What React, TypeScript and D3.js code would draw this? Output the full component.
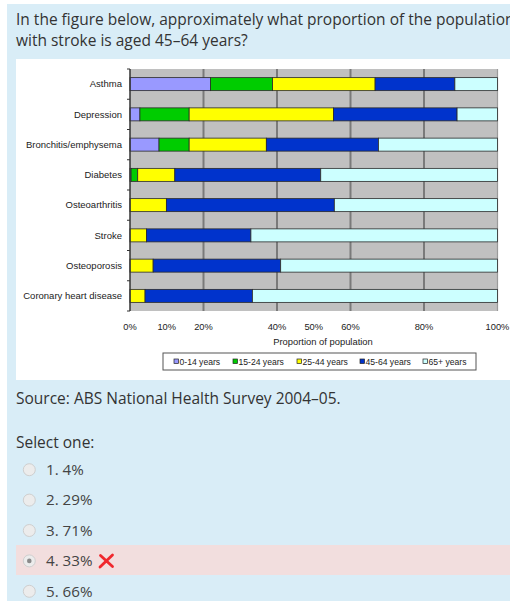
import React from "react";
import * as d3 from "d3";

const categories = [
  "Asthma",
  "Depression",
  "Bronchitis/emphysema",
  "Diabetes",
  "Osteoarthritis",
  "Stroke",
  "Osteoporosis",
  "Coronary heart disease",
];
const ageGroups = ["0-14 years", "15-24 years", "25-44 years", "45-64 years", "65+ years"];
const age0to14 = [21.9, 2.7, 7.9, 0.3, 0, 0, 0, 0];
const age15to24 = [16.9, 13.4, 8.2, 1.8, 0, 0, 0, 0];
const age25to44 = [27.9, 39.3, 21.0, 10.1, 9.9, 4.5, 6.3, 4.1];
const age45to64 = [21.7, 33.6, 30.5, 39.7, 45.7, 28.4, 34.7, 29.2];
const age65plus = [11.6, 11.0, 32.4, 48.1, 44.4, 67.1, 59.0, 66.7];
const groupColors = ["#9999ff", "#00cc00", "#ffff00", "#0033cc", "#ccffff"];
const tickValues = [0, 10, 20, 40, 50, 60, 80, 100];
const gridValues = [20, 40, 60, 80, 100];
const options = ["1. 4%", "2. 29%", "3. 71%", "4. 33%", "5. 66%"];
const selectedOption = 3;

export default function App() {
  const series = [age0to14, age15to24, age25to44, age45to64, age65plus];
  const rows = categories.map((c, i) => {
    const r: any = { cat: c };
    ageGroups.forEach((g, k) => (r[g] = series[k][i]));
    return r;
  });
  const stacked = d3.stack<any>().keys(ageGroups)(rows);

  const x = d3.scaleLinear().domain([0, 100]).range([130, 497.5]);
  const y = d3
    .scaleBand<string>()
    .domain(categories)
    .range([69, 311])
    .paddingInner(0.57)
    .paddingOuter(0.285);
  const step = y.step();
  const plotTop = 69;
  const plotBottom = 311;

  const chartFont = "'Liberation Sans', Arial, sans-serif";
  const pageFont = "'Open Sans', sans-serif";
  const legendX = [174, 233, 297, 360, 423];

  return (
    <svg
      width={510}
      height={601}
      style={{ position: "absolute", left: 0, top: 0, background: "#fff" }}
    >
      {/* page panels */}
      <rect x={7} y={4} width={520} height={610} fill="#d9edf7" />
      <text x={16} y={25} fontFamily={pageFont} fontSize={15.5} fill="#333">
        In the figure below, approximately what proportion of the population
      </text>
      <text x={16} y={46} fontFamily={pageFont} fontSize={15.5} fill="#333">
        with stroke is aged 45–64 years?
      </text>
      <rect x={16} y={59} width={510} height={321} fill="#fff" />

      {/* plot area */}
      <rect x={x(0)} y={plotTop} width={x(100) - x(0)} height={plotBottom - plotTop} fill="#c0c0c0" />
      {gridValues.map((v) => (
        <line
          key={"g" + v}
          x1={x(v)}
          x2={x(v)}
          y1={plotTop}
          y2={plotBottom}
          stroke={v === 100 ? "#9a9a9a" : "#7a7a7a"}
          strokeWidth={v === 100 ? 1.2 : 2}
        />
      ))}

      {stacked.map((s, k) =>
        s.map((d, i) =>
          d[1] - d[0] > 0 ? (
            <rect
              key={k + "-" + i}
              x={x(d[0])}
              y={y(categories[i])!}
              width={x(d[1]) - x(d[0])}
              height={y.bandwidth()}
              fill={groupColors[k]}
              stroke="#2a2a2a"
              strokeWidth={0.8}
            />
          ) : null
        )
      )}

      {/* category axis */}
      <line x1={x(0)} x2={x(0)} y1={plotTop} y2={plotBottom} stroke="#333" strokeWidth={1.5} />
      {d3.range(categories.length + 1).map((k) => (
        <line
          key={"t" + k}
          x1={x(0) - 3}
          x2={x(0)}
          y1={plotTop + k * step}
          y2={plotTop + k * step}
          stroke="#333"
          strokeWidth={1}
        />
      ))}
      {categories.map((c) => (
        <text
          key={c}
          x={122}
          y={y(c)! + y.bandwidth() / 2 + 3.3}
          textAnchor="end"
          fontFamily={chartFont}
          fontSize={9.5}
          fill="#222"
        >
          {c}
        </text>
      ))}

      {/* value axis labels */}
      {tickValues.map((v) => (
        <text
          key={"l" + v}
          x={x(v)}
          y={330}
          textAnchor="middle"
          fontFamily={chartFont}
          fontSize={9.3}
          fill="#222"
        >
          {v + "%"}
        </text>
      ))}
      <text x={323} y={345} textAnchor="middle" fontFamily={chartFont} fontSize={9.4} fill="#222">
        Proportion of population
      </text>

      {/* legend */}
      <rect x={163} y={353} width={313} height={17} fill="#fff" stroke="#555" strokeWidth={1} />
      {ageGroups.map((g, k) => (
        <g key={g}>
          <rect x={legendX[k]} y={359} width={4.5} height={4.5} fill={groupColors[k]} stroke="#222" strokeWidth={0.7} />
          <text x={legendX[k] + 5.5} y={364.5} fontFamily={chartFont} fontSize={8.6} fill="#222">
            {g}
          </text>
        </g>
      ))}

      {/* source and options */}
      <text x={16} y={404} fontFamily={pageFont} fontSize={15.5} fill="#333">
        Source: ABS National Health Survey 2004–05.
      </text>
      <text x={16} y={448} fontFamily={pageFont} fontSize={15.5} fill="#333">
        Select one:
      </text>
      <rect x={16} y={545} width={510} height={30} fill="#f2dede" />
      {options.map((o, i) => {
        const cy = 469.7 + i * 30.4;
        return (
          <g key={o}>
            <circle cx={29.3} cy={cy} r={6} fill="#ececec" stroke="#cfcfcf" strokeWidth={1} />
            {i === selectedOption && <circle cx={29.3} cy={cy} r={2.3} fill="#8a8a8a" />}
            <text x={46} y={cy + 5.3} fontFamily={pageFont} fontSize={15.2} fill="#444">
              {o}
            </text>
          </g>
        );
      })}
      <path
        d="M100.5,555.5 L112.5,566.5 M112.5,555 L100,567"
        stroke="#f0282d"
        strokeWidth={2.8}
        strokeLinecap="round"
        fill="none"
      />
    </svg>
  );
}
